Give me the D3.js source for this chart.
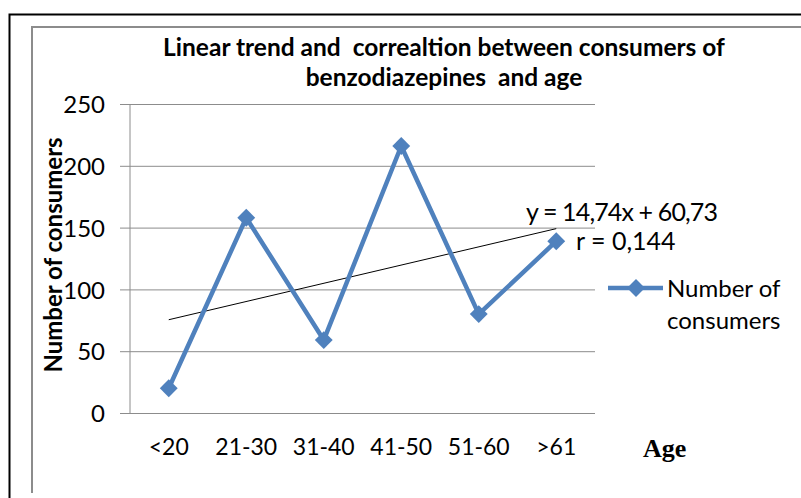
<!DOCTYPE html>
<html>
<head>
<meta charset="utf-8">
<script src="https://cdn.jsdelivr.net/npm/d3@7"></script>
<style>
  body { margin: 0; background: #fff; }
  svg text { font-family: Lato, "Open Sans", sans-serif; fill: #000; white-space: pre; }
</style>
</head>
<body>
<div class="chart"></div>
<script>
const ages = ['<20', '21-30', '31-40', '41-50', '51-60', '>61'];
const consumers = [20, 158, 59, 216, 80, 139];
const yTicks = [0, 50, 100, 150, 200, 250];
const trend = {slope: 14.74, intercept: 60.73};

const outerWidth = 801;
const outerHeight = 498;
const plot = {left: 130, right: 595, top: 104, bottom: 413};

const svg = d3.select('.chart')
    .append('svg')
    .attr('width', outerWidth)
    .attr('height', outerHeight);

// frames
svg.append('path')
    .attr('d', `M9.5,${outerHeight} V14.5 H${outerWidth}`)
    .attr('fill', 'none')
    .attr('stroke', '#000')
    .attr('stroke-width', 2);
svg.append('path')
    .attr('d', `M32,493 V27 H${outerWidth}`)
    .attr('fill', 'none')
    .attr('stroke', '#8c8c8c')
    .attr('stroke-width', 2);

const xScale = d3.scalePoint()
    .domain(ages)
    .range([plot.left, plot.right])
    .padding(0.5);
const yScale = d3.scaleLinear()
    .domain([0, 250])
    .range([plot.bottom, plot.top]);

// y axis with gridlines
const yAxis = d3.axisLeft(yScale)
    .tickValues(yTicks)
    .tickSize(-(plot.right - plot.left + 10))
    .tickPadding(0);

svg.append('g')
    .attr('transform', `translate(${plot.right}, 0)`)
    .call(yAxis)
    .call(g => g.select('.domain').remove())
    .call(g => g.selectAll('.tick line')
                .attr('x1', 0)
                .attr('x2', -(plot.right - plot.left + 10))
                .attr('stroke', '#8c8c8c'))
    .call(g => g.selectAll('.tick text')
                .attr('x', -(plot.right - plot.left) - 25)
                .attr('dy', '0.36em')
                .attr('font-size', 24));

svg.append('line')
    .attr('x1', plot.left).attr('x2', plot.left)
    .attr('y1', plot.top).attr('y2', plot.bottom)
    .attr('stroke', '#8c8c8c');

// x labels
svg.append('g')
    .selectAll('text')
    .data(ages)
    .join('text')
    .attr('x', d => xScale(d))
    .attr('y', 455)
    .attr('text-anchor', 'middle')
    .attr('font-size', 23)
    .text(d => d);

// trend line
const trendLine = d3.line()
    .x(d => xScale(d))
    .y(d => yScale(trend.slope * (ages.indexOf(d) + 1) + trend.intercept));
svg.append('path')
    .datum([ages[0], ages[ages.length - 1]])
    .attr('fill', 'none')
    .attr('stroke', '#000')
    .attr('stroke-width', 1)
    .attr('d', trendLine);

// series
const line = d3.line()
    .x((d, i) => xScale(ages[i]))
    .y(d => yScale(d));
svg.append('path')
    .datum(consumers)
    .attr('fill', 'none')
    .attr('stroke', '#4f81bd')
    .attr('stroke-width', 4.5)
    .attr('stroke-linejoin', 'round')
    .attr('d', line);

const diamond = d3.symbol().type(d3.symbolSquare).size(160);
svg.append('g')
    .selectAll('path')
    .data(consumers)
    .join('path')
    .attr('d', diamond)
    .attr('fill', '#4f81bd')
    .attr('transform', (d, i) => `translate(${xScale(ages[i])}, ${yScale(d)}) rotate(45)`);

// trend labels
svg.append('text')
    .attr('x', 526).attr('y', 221)
    .attr('font-size', 25)
    .attr('textLength', 192)
    .text('y = 14,74x + 60,73');
svg.append('text')
    .attr('x', 576).attr('y', 250)
    .attr('font-size', 25)
    .text('r = 0,144');

// legend
svg.append('line')
    .attr('x1', 608).attr('x2', 663)
    .attr('y1', 288).attr('y2', 288)
    .attr('stroke', '#4f81bd')
    .attr('stroke-width', 4.5);
svg.append('path')
    .attr('d', diamond)
    .attr('fill', '#4f81bd')
    .attr('transform', 'translate(636, 288) rotate(45)');
svg.append('text')
    .attr('x', 667).attr('y', 297)
    .attr('font-size', 24)
    .text('Number of');
svg.append('text')
    .attr('x', 667).attr('y', 329)
    .attr('font-size', 24)
    .text('consumers');

// titles
const title = svg.append('text')
    .attr('text-anchor', 'middle')
    .attr('font-size', 24.5)
    .attr('font-weight', 'bold');
title.append('tspan').attr('x', 444).attr('y', 56)
    .text('Linear trend and  correaltion between consumers of');
title.append('tspan').attr('x', 444).attr('y', 86)
    .text('benzodiazepines  and age');

svg.append('text')
    .attr('transform', 'translate(62, 255) rotate(-90)')
    .attr('text-anchor', 'middle')
    .attr('font-size', 24)
    .attr('font-weight', 'bold')
    .text('Number of consumers');

svg.append('text')
    .attr('x', 643).attr('y', 457)
    .style('font-family', '"Liberation Serif", "DejaVu Serif", serif')
    .attr('font-size', 26)
    .attr('font-weight', 'bold')
    .text('Age');
</script>
</body>
</html>
